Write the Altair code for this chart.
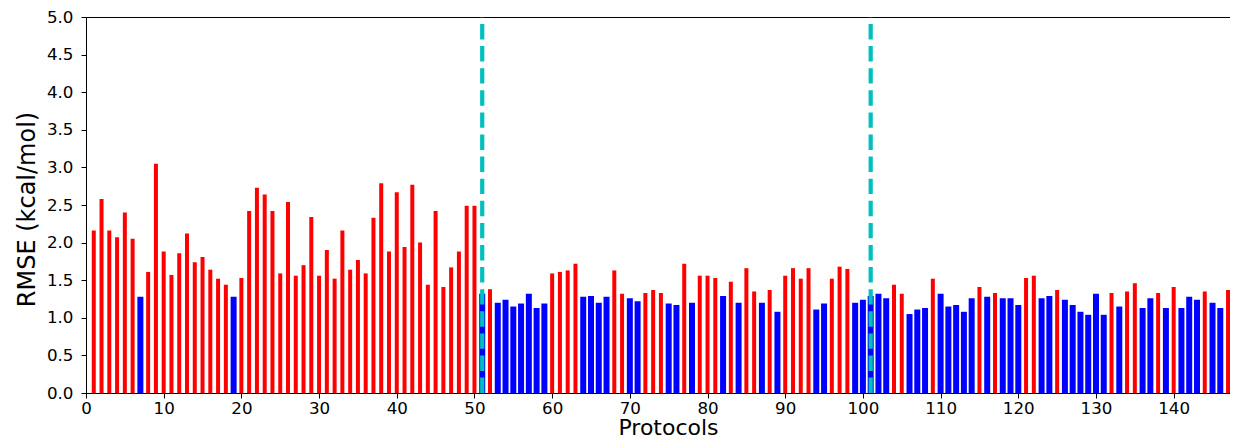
import altair as alt
import pandas as pd

# RMSE per protocol (protocols numbered 1..147)
rmse = [
    2.16, 2.58, 2.16, 2.07, 2.40, 2.05, 1.28, 1.61, 3.05, 1.88,
    1.57, 1.86, 2.12, 1.74, 1.81, 1.64, 1.52, 1.44, 1.28, 1.53,
    2.42, 2.73, 2.64, 2.42, 1.59, 2.54, 1.56, 1.70, 2.34, 1.56,
    1.90, 1.52, 2.16, 1.64, 1.77, 1.59, 2.33, 2.79, 1.88, 2.67,
    1.94, 2.77, 2.00, 1.44, 2.42, 1.41, 1.67, 1.88, 2.49, 2.49,
    1.32, 1.38, 1.20, 1.24, 1.15, 1.19, 1.32, 1.13, 1.19, 1.59,
    1.61, 1.63, 1.72, 1.28, 1.29, 1.20, 1.28, 1.63, 1.32, 1.26,
    1.22, 1.33, 1.37, 1.33, 1.19, 1.17, 1.72, 1.20, 1.56, 1.56,
    1.53, 1.29, 1.48, 1.20, 1.66, 1.35, 1.20, 1.37, 1.08, 1.56,
    1.66, 1.52, 1.66, 1.11, 1.19, 1.52, 1.68, 1.65, 1.20, 1.24,
    1.29, 1.32, 1.26, 1.44, 1.32, 1.05, 1.11, 1.13, 1.52, 1.32,
    1.15, 1.17, 1.08, 1.26, 1.41, 1.28, 1.33, 1.26, 1.26, 1.17,
    1.53, 1.56, 1.26, 1.29, 1.37, 1.24, 1.17, 1.08, 1.04, 1.32,
    1.04, 1.33, 1.15, 1.35, 1.46, 1.13, 1.26, 1.33, 1.13, 1.41,
    1.13, 1.28, 1.24, 1.35, 1.20, 1.13, 1.37,
]

# Category of each protocol: "A" (red) or "B" (blue)
group = list(
    "AAAAAABAAA"
    "AAAAAAAABA"
    "AAAAAAAAAA"
    "AAAAAAAAAA"
    "AAAAAAAAAA"
    "BABBBBBBBA"
    "AAABBBBAAB"
    "BAAABBABAA"
    "ABABAABABA"
    "AAABBAAABB"
    "BBBAABBBAB"
    "BBBBABABBB"
    "AABBABBBBB"
    "BABAABBABA"
    "BBBABBA"
)

protocol = list(range(1, len(rmse) + 1))
dividers = [51, 101]
x_ticks = list(range(0, 150, 10))
y_ticks = [0.0, 0.5, 1.0, 1.5, 2.0, 2.5, 3.0, 3.5, 4.0, 4.5, 5.0]

df = pd.DataFrame({"protocol": protocol, "rmse": rmse, "group": group})
lines_df = pd.DataFrame({"x": dividers})

FONT = "DejaVu Sans"
x_scale = alt.Scale(domain=[0, 147.25], nice=False, zero=False, padding=0)
y_scale = alt.Scale(domain=[0, 5], nice=False, padding=0)

x_axis = alt.Axis(
    values=x_ticks, title="Protocols", format="d",
    labelPadding=2, titleX=582, titleY=41.5, titleAlign="center",
    titleBaseline="alphabetic", titleFontSize=22,
    labelFlush=False, labelOverlap=False,
)
y_axis = alt.Axis(
    values=y_ticks, format=".1f", title="RMSE (kcal/mol)", tickCount=11,
    labelPadding=8, titlePadding=7, titleY=192, titleAlign="center",
    labelFlush=False, labelOverlap=False,
)

x_enc = alt.X("protocol:Q", scale=x_scale, axis=x_axis)
y_enc = alt.Y("rmse:Q", scale=y_scale, axis=y_axis)
color_enc = alt.Color(
    "group:N",
    scale=alt.Scale(domain=["A", "B"], range=["#ff0000", "#0000ff"]),
    legend=None,
)

base = alt.Chart(df)
red = base.transform_filter(alt.datum.group == "A").mark_bar(size=4).encode(
    x=x_enc, y=y_enc, color=color_enc
)
blue = base.transform_filter(alt.datum.group == "B").mark_bar(size=6).encode(
    x=x_enc, y=y_enc, color=color_enc
)
rules = alt.Chart(lines_df).mark_rule(
    color="#00bfbf", strokeDash=[15.4, 6.7], strokeWidth=4.2
).encode(
    x=alt.X("x:Q", scale=x_scale, axis=x_axis),
    y=alt.Y(datum=0, type="quantitative", scale=y_scale, axis=y_axis),
    y2=alt.Y2(datum=5),
)

chart = (
    alt.layer(red, blue, rules)
    .properties(
        width=1144,
        height=376,
        autosize=alt.AutoSizeParams(type="none"),
        padding={"left": 78, "top": 9, "right": 0, "bottom": 43},
    )
    .configure_view(stroke="black", strokeWidth=1)
    .configure_axis(
        grid=False,
        domainColor="black",
        domainWidth=1,
        tickColor="black",
        tickWidth=1,
        tickSize=5,
        labelFont=FONT,
        labelFontSize=16.7,
        labelColor="black",
        titleFont=FONT,
        titleFontSize=24,
        titleFontWeight="normal",
        titleColor="black",
    )
)

chart.save("out.html", embed_options={"renderer": "svg", "actions": False})
